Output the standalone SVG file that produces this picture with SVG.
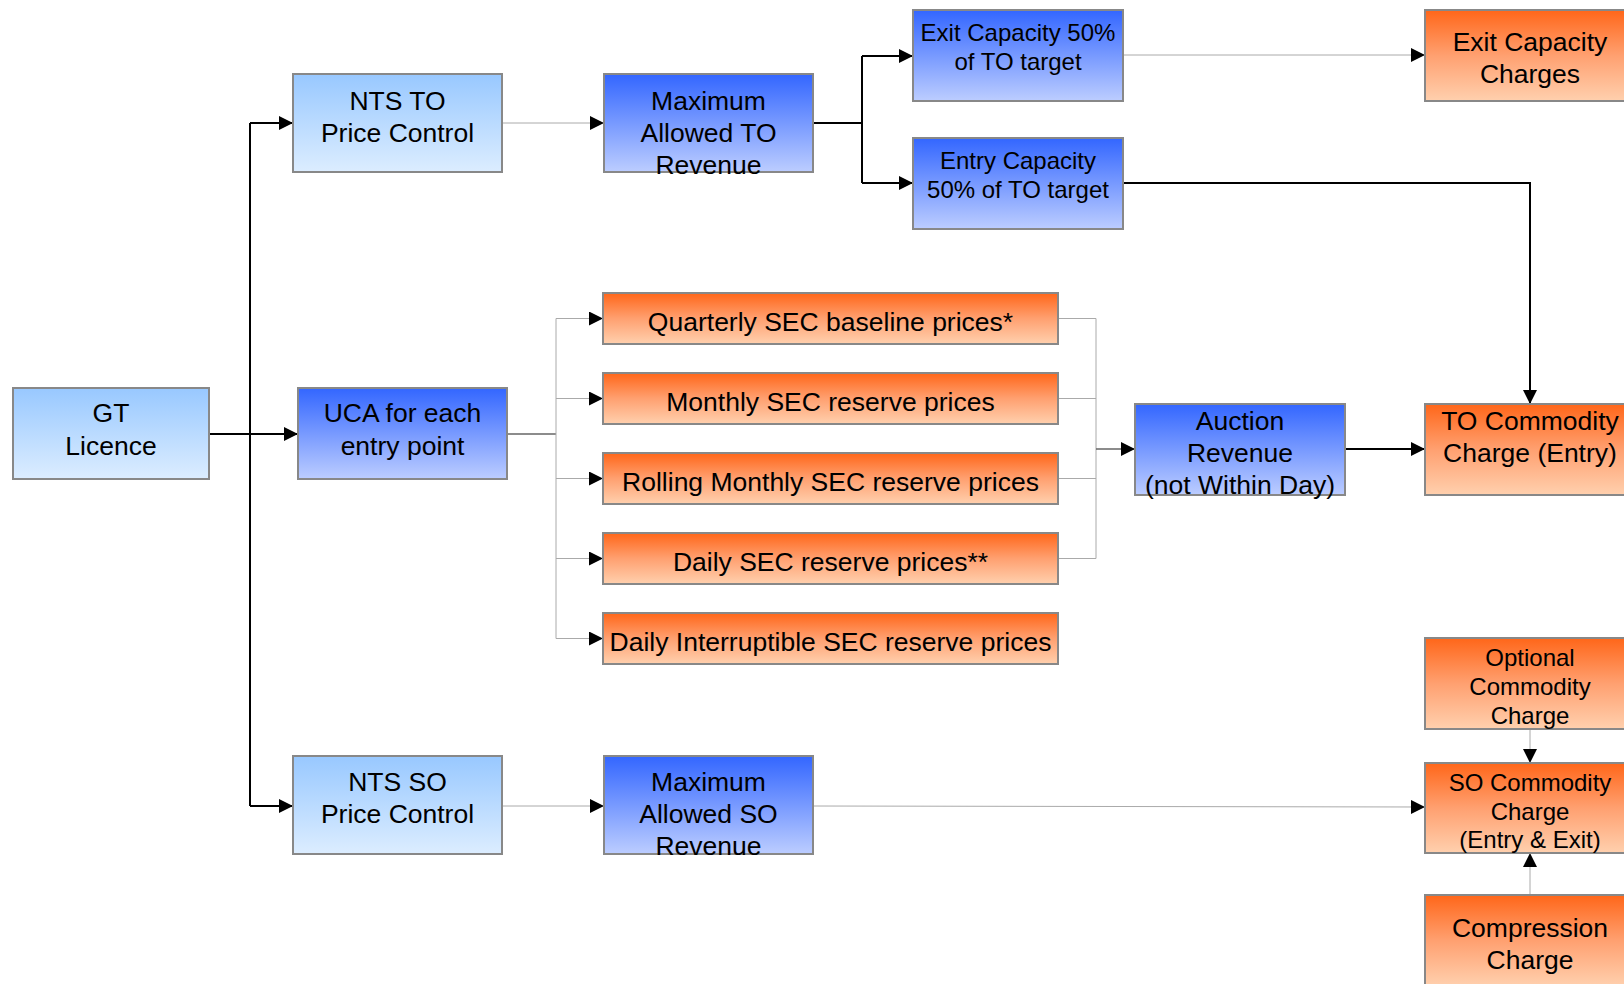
<svg xmlns="http://www.w3.org/2000/svg" width="1624" height="984" viewBox="0 0 1624 984">
<defs>
<linearGradient id="gLight" x1="0" y1="0" x2="0" y2="1">
<stop offset="0" stop-color="#98C8FF"/><stop offset="1" stop-color="#DCEDFF"/>
</linearGradient>
<linearGradient id="gBlue" x1="0" y1="0" x2="0" y2="1">
<stop offset="0" stop-color="#3366FF"/><stop offset="1" stop-color="#BCCDFF"/>
</linearGradient>
<linearGradient id="gOrange" x1="0" y1="0" x2="0" y2="1">
<stop offset="0" stop-color="#FF6619"/><stop offset="0.5" stop-color="#FFA070"/><stop offset="1" stop-color="#FFD0AE"/>
</linearGradient>
<marker id="arr" viewBox="0 0 14 14" refX="14" refY="7" markerWidth="14" markerHeight="14" orient="auto" markerUnits="userSpaceOnUse">
<path d="M0,0 L14,7 L0,14 z" fill="#000"/>
</marker>
</defs>
<style>
rect.n{stroke:#888;stroke-width:2}
.light{fill:url(#gLight)}
.blue{fill:url(#gBlue)}
.orange{fill:url(#gOrange)}
text{font-family:"Liberation Sans",Arial,sans-serif;fill:#000;text-anchor:middle}
.t26{font-size:26.5px}
.t24{font-size:24px}
.blk{stroke:#000;stroke-width:2;fill:none}
.gry{stroke:#aaa;stroke-width:1;fill:none}
.dgry{stroke:#666;stroke-width:1.5;fill:none}
.arr{marker-end:url(#arr)}
</style>
<rect width="1624" height="984" fill="#fff"/>

<g id="connectors">
<path class="blk arr" d="M209,434 H298"/>
<path class="blk" d="M250,123 V806"/>
<path class="blk arr" d="M250,123 H293"/>
<path class="blk arr" d="M250,806 H293"/>
<path class="gry arr" d="M502,123 H604"/>
<path class="gry arr" d="M502,806 H604"/>
<path class="blk" d="M813,123 H862 M862,56 V183"/>
<path class="blk arr" d="M862,56 H913"/>
<path class="blk arr" d="M862,183 H913"/>
<path class="gry arr" d="M1123,55 H1425"/>
<path class="blk arr" d="M1123,183 H1530 V404"/>
<path class="dgry" d="M507,434 H556"/>
<path class="gry" d="M556,318.5 V638.5"/>
<path class="gry arr" d="M556,318.5 H603"/>
<path class="gry arr" d="M556,398.5 H603"/>
<path class="gry arr" d="M556,478.5 H603"/>
<path class="gry arr" d="M556,558.5 H603"/>
<path class="gry arr" d="M556,638.5 H603"/>
<path class="gry" d="M1058,318.5 H1096 M1058,398.5 H1096 M1058,478.5 H1096 M1058,558.5 H1096 M1096,318.5 V558.5"/>
<path class="dgry arr" d="M1096,449 H1135"/>
<path class="blk arr" d="M1345,449 H1425"/>
<path class="gry arr" d="M813,806 L1425,807"/>
<path class="gry arr" d="M1530,729 V763"/>
<path class="gry arr" d="M1530,895 V853"/>
</g>

<g id="gt-licence">
<rect class="n light" x="13" y="388" width="196" height="91"/>
<text class="t26" x="111" y="422">GT</text>
<text class="t26" x="111" y="455">Licence</text>
</g>

<g id="nts-to">
<rect class="n light" x="293" y="74" width="209" height="98"/>
<text class="t26" x="397.5" y="109.5">NTS TO</text>
<text class="t26" x="397.5" y="141.5">Price Control</text>
</g>

<g id="nts-so">
<rect class="n light" x="293" y="756" width="209" height="98"/>
<text class="t26" x="397.5" y="791">NTS SO</text>
<text class="t26" x="397.5" y="823">Price Control</text>
</g>

<g id="uca">
<rect class="n blue" x="298" y="388" width="209" height="91"/>
<text class="t26" x="402.5" y="422">UCA for each</text>
<text class="t26" x="402.5" y="455">entry point</text>
</g>

<g id="max-to">
<rect class="n blue" x="604" y="74" width="209" height="98"/>
<text class="t26" x="708.5" y="109.5">Maximum</text>
<text class="t26" x="708.5" y="141.5">Allowed TO</text>
<text class="t26" x="708.5" y="173.5">Revenue</text>
</g>

<g id="max-so">
<rect class="n blue" x="604" y="756" width="209" height="98"/>
<text class="t26" x="708.5" y="791">Maximum</text>
<text class="t26" x="708.5" y="823">Allowed SO</text>
<text class="t26" x="708.5" y="855">Revenue</text>
</g>

<g id="exit-cap">
<rect class="n blue" x="913" y="10" width="210" height="91"/>
<text class="t24" x="1018" y="41">Exit Capacity 50%</text>
<text class="t24" x="1018" y="70">of TO target</text>
</g>

<g id="entry-cap">
<rect class="n blue" x="913" y="138" width="210" height="91"/>
<text class="t24" x="1018" y="169">Entry Capacity</text>
<text class="t24" x="1018" y="198">50% of TO target</text>
</g>

<g id="exit-charges">
<rect class="n orange" x="1425" y="10" width="210" height="91"/>
<text class="t26" x="1530" y="50.5">Exit Capacity</text>
<text class="t26" x="1530" y="82.5">Charges</text>
</g>

<g id="sec-quarterly">
<rect class="n orange" x="603" y="293" width="455" height="51"/>
<text class="t26" x="830.5" y="331">Quarterly SEC baseline prices*</text>
</g>
<g id="sec-monthly">
<rect class="n orange" x="603" y="373" width="455" height="51"/>
<text class="t26" x="830.5" y="411">Monthly SEC reserve prices</text>
</g>
<g id="sec-rolling">
<rect class="n orange" x="603" y="453" width="455" height="51"/>
<text class="t26" x="830.5" y="491">Rolling Monthly SEC reserve prices</text>
</g>
<g id="sec-daily">
<rect class="n orange" x="603" y="533" width="455" height="51"/>
<text class="t26" x="830.5" y="571">Daily SEC reserve prices**</text>
</g>
<g id="sec-interruptible">
<rect class="n orange" x="603" y="613" width="455" height="51"/>
<text class="t26" x="830.5" y="651">Daily Interruptible SEC reserve prices</text>
</g>

<g id="auction">
<rect class="n blue" x="1135" y="404" width="210" height="91"/>
<text class="t26" x="1240" y="429.5">Auction</text>
<text class="t26" x="1240" y="461.5">Revenue</text>
<text class="t26" x="1240" y="493.5">(not Within Day)</text>
</g>

<g id="to-commodity">
<rect class="n orange" x="1425" y="404" width="210" height="91"/>
<text class="t26" x="1530" y="429.5">TO Commodity</text>
<text class="t26" x="1530" y="461.5">Charge (Entry)</text>
</g>

<g id="optional-commodity">
<rect class="n orange" x="1425" y="638" width="210" height="91"/>
<text class="t24" x="1530" y="666">Optional</text>
<text class="t24" x="1530" y="695">Commodity</text>
<text class="t24" x="1530" y="723.5">Charge</text>
</g>

<g id="so-commodity">
<rect class="n orange" x="1425" y="763" width="210" height="90"/>
<text class="t24" x="1530" y="790.5">SO Commodity</text>
<text class="t24" x="1530" y="819.5">Charge</text>
<text class="t24" x="1530" y="848">(Entry &amp; Exit)</text>
</g>

<g id="compression">
<rect class="n orange" x="1425" y="895" width="210" height="91"/>
<text class="t26" x="1530" y="937">Compression</text>
<text class="t26" x="1530" y="969">Charge</text>
</g>
</svg>
